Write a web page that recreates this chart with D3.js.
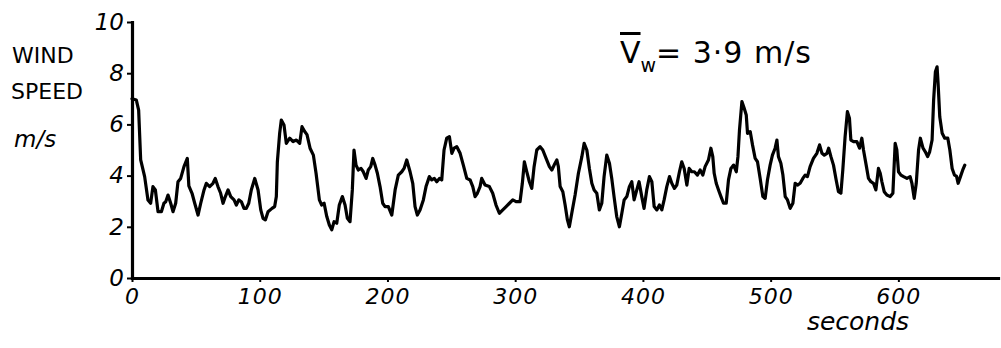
<!DOCTYPE html>
<html>
<head>
<meta charset="utf-8">
<script src="https://cdn.jsdelivr.net/npm/d3@7/dist/d3.min.js"></script>
<style>
  html, body { margin: 0; padding: 0; background: #fff; }
  svg { display: block; }
  text { font-family: "DejaVu Sans", sans-serif; fill: #000; }
</style>
</head>
<body>
<svg id="chart" width="1001" height="348"></svg>
<script>
// Wind speed record, time in seconds and speed in m/s
const seconds = [
  0, 3.4, 5.2, 6.8, 9.9, 12.5, 14.6, 16.4, 18.3, 20.4, 23.0, 25.0, 26.4, 28.2, 30.3, 32.1, 34.2, 36.0, 38.1, 40.7,
  43.3, 44.5, 47.0, 49.1, 51.7, 53.8, 56.4, 58.2, 60.8, 63.4, 65.2, 67.3, 69.4, 71.3, 73.1, 75.2, 77.3, 79.9, 81.7, 83.6,
  85.6, 87.7, 89.5, 91.4, 93.4, 96.1, 98.7, 100.8, 102.6, 104.4, 106.5, 109.6, 111.7, 113.0, 113.8, 115.6, 116.9, 119.0, 120.8, 123.5,
  126.1, 128.7, 131.3, 133.1, 135.2, 137.0, 139.4, 142.0, 144.1, 146.7, 148.5, 150.4, 152.5, 154.5, 156.4, 158.2, 160.3, 162.3, 164.7, 166.8,
  168.6, 170.7, 172.5, 173.8, 175.4, 177.2, 179.3, 181.1, 183.3, 185.0, 186.9, 188.5, 190.3, 192.1, 194.2, 196.3, 198.1, 200.7, 203.4, 206.0,
  208.5, 211.2, 213.0, 215.1, 217.7, 219.8, 221.6, 223.4, 225.5, 228.1, 230.2, 232.8, 234.7, 236.7, 238.6, 240.7, 242.5, 244.3, 246.4, 248.5,
  250.4, 252.2, 254.3, 256.9, 259.4, 262.1, 264.7, 266.8, 268.6, 270.4, 272.5, 273.8, 276.4, 279.8, 282.4, 285.0, 287.6, 290.3, 292.9, 295.5,
  298.1, 300.7, 303.8, 305.6, 307.2, 309.1, 311.1, 313.0, 314.8, 316.9, 319.5, 321.6, 324.2, 326.8, 328.7, 330.5, 332.6, 333.8, 335.2, 337.3,
  339.1, 340.9, 342.4, 344.3, 346.9, 349.5, 352.2, 354.0, 356.1, 358.1, 360.0, 361.8, 363.9, 365.9, 367.8, 369.6, 371.7, 373.8, 375.6, 377.4,
  379.5, 381.6, 383.5, 385.3, 387.4, 389.4, 391.3, 393.1, 395.2, 397.0, 399.1, 400.9, 403.0, 405.1, 407.0, 408.8, 410.9, 412.9, 414.8, 416.6,
  418.7, 420.8, 422.6, 424.7, 426.5, 428.6, 430.4, 432.3, 434.4, 436.2, 438.3, 440.3, 442.7, 444.8, 446.9, 448.7, 451.3, 453.2, 454.7, 455.8,
  457.4, 459.2, 461.1, 463.1, 465.2, 467.0, 468.9, 471.0, 473.1, 474.4, 475.6, 477.5, 479.3, 480.9, 481.9, 484.0, 485.8, 487.9, 489.7, 491.8,
  493.9, 495.7, 497.5, 499.6, 501.4, 503.5, 504.9, 506.1, 508.0, 509.6, 511.4, 513.2, 515.3, 517.4, 519.2, 521.0, 523.1, 525.2, 527.0, 528.8,
  530.9, 533.5, 536.2, 538.3, 540.2, 542.0, 544.1, 545.4, 547.2, 549.2, 551.3, 553.1, 555.0, 556.5, 558.3, 560.1, 561.7, 562.8, 564.9, 567.5,
  569.6, 571.4, 572.7, 574.8, 576.6, 578.5, 580.5, 582.4, 584.4, 585.8, 587.1, 588.9, 591.0, 593.6, 595.7, 597.5, 598.8, 600.1, 602.0, 604.1,
  606.7, 609.2, 610.6, 612.4, 614.0, 615.8, 617.2, 619.3, 621.1, 622.9, 624.5, 626.4, 627.6, 629.0, 630.3, 631.1, 632.4, 634.3, 636.3, 638.7,
  640.3, 642.1, 643.9, 645.5, 646.8, 648.6, 650.4, 652.0
];
const windSpeed = [
  7.0, 6.95, 6.56, 4.61, 3.96, 3.05, 2.92, 3.57, 3.44, 2.59, 2.59, 2.92, 2.98, 3.24, 2.92, 2.59, 2.92, 3.76, 3.89, 4.35,
  4.67, 3.6, 3.31, 2.92, 2.46, 2.92, 3.44, 3.70, 3.57, 3.70, 3.89, 3.57, 3.31, 2.92, 3.18, 3.44, 3.18, 3.05, 2.85, 3.05,
  2.98, 2.72, 2.72, 2.92, 3.44, 3.89, 3.44, 2.66, 2.33, 2.27, 2.59, 2.72, 2.79, 3.18, 4.54, 5.65, 6.17, 5.98, 5.26, 5.46,
  5.33, 5.39, 5.26, 5.91, 5.72, 5.6, 5.07, 4.80, 4.09, 3.05, 2.85, 2.92, 2.40, 2.07, 1.88, 2.20, 2.14, 2.85, 3.18, 2.85,
  2.33, 2.20, 3.44, 5.0, 4.41, 4.22, 4.28, 4.15, 3.89, 4.22, 4.35, 4.67, 4.41, 4.09, 3.57, 2.92, 2.79, 2.79, 2.46, 3.44,
  4.02, 4.15, 4.28, 4.61, 4.15, 3.70, 2.79, 2.46, 2.66, 3.05, 3.57, 3.96, 3.83, 3.89, 3.76, 3.89, 3.83, 5.0, 5.46, 5.52,
  4.87, 5.07, 5.13, 4.87, 4.41, 3.89, 3.83, 3.57, 3.18, 3.31, 3.57, 3.89, 3.63, 3.57, 3.31, 2.85, 2.53, 2.66, 2.79, 2.92,
  3.05, 2.98, 2.98, 3.70, 4.54, 4.15, 3.76, 3.50, 4.35, 5.0, 5.13, 5.0, 4.67, 4.35, 4.22, 4.41, 4.61, 4.35, 3.57, 3.37,
  2.85, 2.27, 2.0, 2.53, 3.24, 4.09, 4.74, 5.26, 5.0, 4.28, 3.70, 3.44, 3.31, 2.66, 2.92, 3.96, 4.80, 4.48, 3.89, 3.18,
  2.40, 2.0, 2.53, 3.05, 3.18, 3.57, 3.76, 3.05, 3.44, 3.76, 3.18, 2.72, 3.44, 3.96, 3.76, 2.79, 2.66, 2.85, 2.66, 3.05,
  3.57, 3.96, 3.70, 3.50, 3.63, 4.15, 4.54, 4.28, 3.63, 4.28, 4.15, 4.15, 4.02, 4.22, 4.02, 4.35, 4.61, 5.07, 4.74, 4.09,
  3.70, 3.44, 3.18, 2.92, 2.92, 3.83, 4.28, 4.41, 4.15, 4.74, 5.78, 6.89, 6.63, 6.37, 5.65, 5.72, 5.20, 4.67, 4.54, 3.89,
  3.18, 3.11, 3.83, 4.41, 4.80, 5.07, 5.39, 4.74, 4.48, 4.02, 3.18, 3.05, 2.72, 2.92, 3.70, 3.63, 3.70, 3.89, 4.02, 3.96,
  4.35, 4.67, 4.87, 5.20, 4.87, 4.80, 4.87, 5.07, 4.74, 4.41, 3.83, 3.37, 3.31, 4.22, 5.52, 6.50, 6.24, 5.39, 5.33, 5.33,
  5.07, 5.46, 5.0, 4.41, 3.89, 3.76, 3.70, 3.44, 4.28, 4.09, 3.76, 3.37, 3.24, 3.18, 3.31, 5.26, 5.0, 4.15, 4.02, 3.96,
  3.89, 3.96, 3.70, 3.11, 3.70, 5.0, 5.46, 5.07, 4.93, 4.74, 4.93, 5.39, 6.95, 8.06, 8.25, 7.60, 6.30, 5.65, 5.46, 5.46,
  5.0, 4.28, 4.02, 3.98, 3.70, 3.96, 4.22, 4.41
];
const xTickValues = [0, 100, 200, 300, 400, 500, 600];
const yTickValues = [0, 2, 4, 6, 8, 10];
const yTitle = ["WIND", "SPEED"];
const yUnit = "m/s";
const xTitle = "seconds";
const meanSpeed = "3·9";

const svg = d3.select("#chart");

const x = d3.scaleLinear().domain([0, 678]).range([132, 998]);
const y = d3.scaleLinear().domain([0, 10]).range([278, 22]);

// y axis
const yAxis = svg.append("g")
  .attr("transform", `translate(${x(0)},0)`)
  .call(d3.axisLeft(y).tickValues(yTickValues).tickSize(5).tickSizeOuter(0).tickPadding(3));
yAxis.select(".domain").attr("stroke", "#000").attr("stroke-width", 3.2).attr("stroke-linecap", "square");
yAxis.selectAll(".tick line").attr("stroke", "#000").attr("stroke-width", 2);
yAxis.selectAll(".tick text")
  .attr("font-size", 23)
  .attr("font-style", "italic")
  .attr("font-family", "DejaVu Sans, sans-serif")
  .attr("fill", "#000");

// x axis
const xAxis = svg.append("g")
  .attr("transform", `translate(0,${y(0)})`)
  .call(d3.axisBottom(x).tickValues(xTickValues).tickSize(4).tickSizeOuter(0).tickPadding(6));
xAxis.select(".domain").attr("stroke", "#000").attr("stroke-width", 3.2).attr("stroke-linecap", "square");
xAxis.selectAll(".tick line").attr("stroke", "#000").attr("stroke-width", 2);
xAxis.selectAll(".tick text")
  .attr("font-size", 22)
  .attr("font-style", "italic")
  .attr("letter-spacing", 1)
  .attr("font-family", "DejaVu Sans, sans-serif")
  .attr("fill", "#000");

// wind speed trace
const data = seconds.map((t, i) => ({ t, v: windSpeed[i] }));
const line = d3.line().x(d => x(d.t)).y(d => y(d.v));
svg.append("path")
  .datum(data)
  .attr("d", line)
  .attr("fill", "none")
  .attr("stroke", "#000")
  .attr("stroke-width", 3.2)
  .attr("stroke-linejoin", "round")
  .attr("stroke-linecap", "round");

// axis titles
svg.append("text").attr("x", 12).attr("y", 63).attr("font-size", 22).text(yTitle[0]);
svg.append("text").attr("x", 11).attr("y", 99).attr("font-size", 22).text(yTitle[1]);
svg.append("text").attr("x", 14).attr("y", 147).attr("font-size", 23).attr("font-style", "italic").text(yUnit);
svg.append("text").attr("x", 858).attr("y", 330).attr("text-anchor", "middle")
  .attr("font-size", 25).attr("font-style", "italic").text(xTitle);

// mean wind speed note
const note = svg.append("text").attr("x", 620).attr("y", 63).attr("font-size", 30);
note.append("tspan").attr("text-decoration", "overline").text("V");
note.append("tspan").attr("font-size", 19).attr("dy", 9).text("w");
note.append("tspan").attr("dy", -9).attr("letter-spacing", 1).text(`= ${meanSpeed} m/s`);
</script>
</body>
</html>
